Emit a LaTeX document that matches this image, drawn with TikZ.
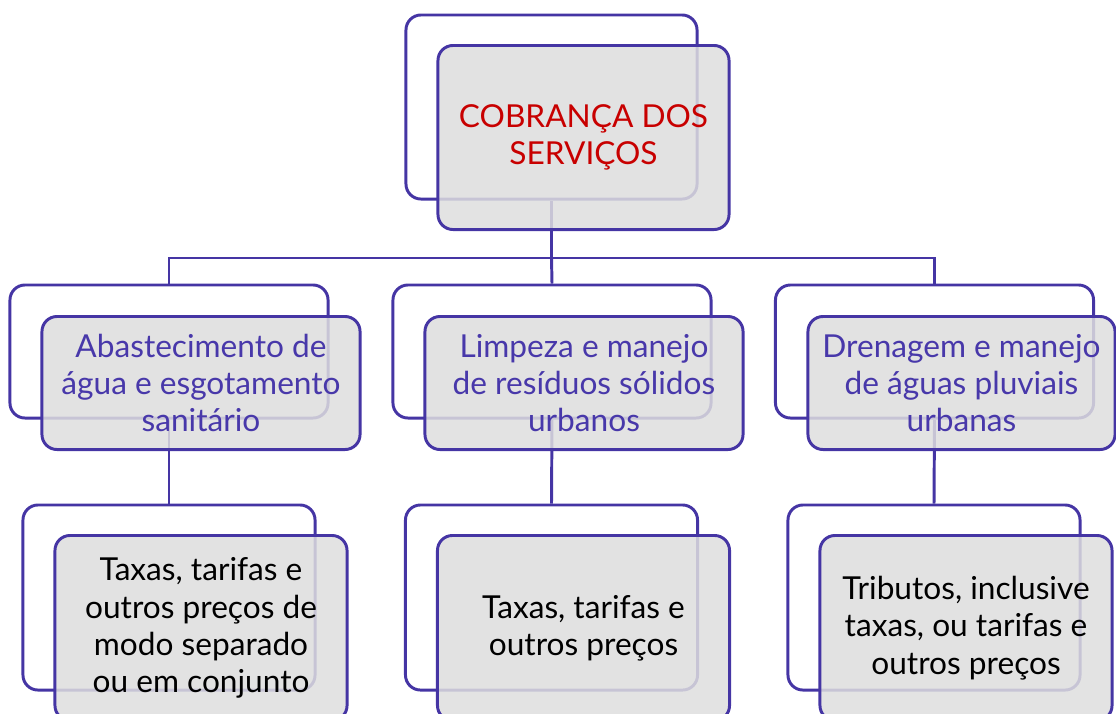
\documentclass[tikz,border=0pt]{standalone}
\usepackage{fontspec}
\setmainfont{Lato}
\usepackage{xcolor}
\usepackage{tikz}
\usetikzlibrary{positioning, calc}

\definecolor{rahmen}{RGB}{69,53,164}
\definecolor{roxo}{RGB}{72,56,170}
\definecolor{vermelho}{RGB}{200,0,0}
\definecolor{cinza}{RGB}{222,222,222}

\tikzset{
	atras/.style={draw=rahmen, line width=2.1pt, rounded corners=0.375cm, fill=white, inner sep=0pt},
	frente/.style={draw=rahmen, line width=2.1pt, rounded corners=0.375cm, fill=cinza, fill opacity=0.85, text opacity=1, align=center, inner sep=0pt, font=\fontsize{22.5}{26.5}\selectfont},
	grande/.style={minimum width=7.275cm, minimum height=4.6cm},
	medio/.style={minimum width=7.95cm, minimum height=3.325cm},
	pequeno/.style={minimum width=7.3cm, minimum height=4.625cm},
	linha/.style={draw=rahmen, line width=2.1pt}
}

\begin{document}
\begin{tikzpicture}[x=0.025cm, y=-0.025cm]
		\useasboundingbox (0,0) rectangle (1116,713);

		% caixas de tras
		\node[atras, grande] (cb) at (551.5,107) {};
		\node[atras, medio] (ab) at (169,351.5) {};
		\node[atras, medio] (lb) at (552,351.5) {};
		\node[atras, medio] (db) at (934.5,351.5) {};
		\node[atras, pequeno] (tab) at (169,597.5) {};
		\node[atras, pequeno] (tlb) at (551.5,597.5) {};
		\node[atras, pequeno] (tdb) at (934,597.5) {};

		% ligacoes
		\coordinate (meio) at (551.5,258);
		\draw[linha] (cb.south) -- (meio);
		\draw[linha] (meio) -| (ab.north);
		\draw[linha] (meio) -| (db.north);
		\draw[linha] (meio) -- (lb.north);
		\draw[linha] (ab.south) -- (tab.north);
		\draw[linha] (lb.south) -- (tlb.north);
		\draw[linha] (db.south) -- (tdb.north);

		% caixas da frente
		\node[frente, grande, text=vermelho] (cf) at (583.5,137.5) {COBRANÇA DOS\\SERVIÇOS};
		\node[frente, medio, text=roxo] (af) at (201,383) {Abastecimento de\\água e esgotamento\\sanitário};
		\node[frente, medio, text=roxo] (lf) at (584,383) {Limpeza e manejo\\de resíduos sólidos\\urbanos};
		\node[frente, medio, text=roxo, minimum width=7.675cm] (df) at (961.5,383) {Drenagem e manejo\\de águas pluviais\\urbanas};
		\node[frente, pequeno] (taf) at (201,628) {Taxas, tarifas e\\outros preços de\\modo separado\\ou em conjunto};
		\node[frente, pequeno] (tlf) at (583.5,628) {Taxas, tarifas e\\outros preços};
		\node[frente, pequeno] (tdf) at (966,628) {Tributos, inclusive\\taxas, ou tarifas e\\outros preços};

	\end{tikzpicture}
\end{document}
